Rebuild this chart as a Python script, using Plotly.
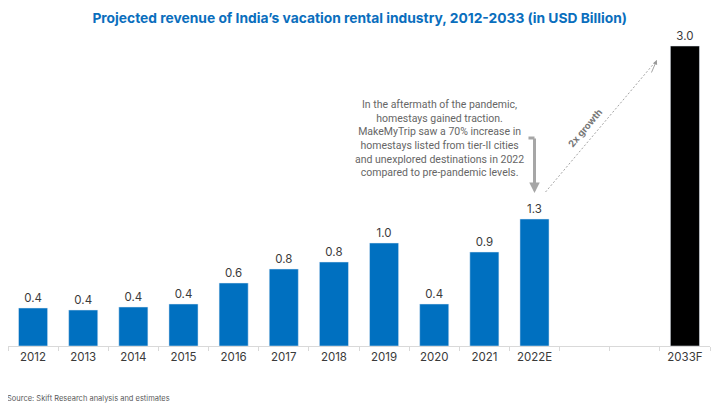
import plotly.graph_objects as go

# revenue in USD billion
years = ["2012", "2013", "2014", "2015", "2016", "2017", "2018", "2019",
         "2020", "2021", "2022E", " ", "  ", "2033F"]
revenue = [0.38, 0.36, 0.39, 0.42, 0.63, 0.77, 0.84, 1.03,
           0.42, 0.94, 1.27, None, None, 3.0]
bar_colors = ["#0070C0"] * 13 + ["#000000"]
labels = ["" if v is None else "%.1f" % v for v in revenue]

note = ("In the aftermath of the pandemic,<br>homestays gained traction.<br>"
        "MakeMyTrip saw a 70% increase in<br>homestays listed from tier-II cities<br>"
        "and unexplored destinations in 2022<br>compared to pre-pandemic levels.")

fig = go.Figure()
fig.add_trace(go.Bar(
    x=years, y=revenue, marker_color=bar_colors, width=0.58,
    text=labels, textposition="outside", cliponaxis=False,
    textfont=dict(size=11.5, color="#3A3A3A", family="Inter"),
))

gray = "#A6A6A6"
# dashed growth arrow
fig.add_shape(type="line", xref="x", yref="y", x0=10.22, y0=1.54, x1=12.44, y1=2.86,
              line=dict(color="#999999", width=0.9, dash="2px,2px"))
fig.add_annotation(x=12.44, y=2.86, ax=12.32, ay=2.72, xref="x", yref="y",
                   axref="x", ayref="y", text="", showarrow=True,
                   arrowhead=2, arrowsize=1, arrowwidth=0.9, arrowcolor="#999999")
fig.add_annotation(x=11.02, y=2.18, xref="x", yref="y", text="<b>2x growth</b>",
                   showarrow=False, textangle=-50,
                   font=dict(size=9.5, color="#757575", family="Inter"))

# bracket arrow from the note down to 2022E
fig.add_shape(type="line", xref="x", yref="y", x0=9.88, y0=2.08, x1=10.0, y1=2.08,
              line=dict(color=gray, width=3))
fig.add_annotation(x=10.0, y=1.53, ax=10.0, ay=2.09, xref="x", yref="y",
                   axref="x", ayref="y", text="", showarrow=True,
                   arrowhead=2, arrowsize=0.7, arrowwidth=3, arrowcolor=gray)
fig.add_annotation(x=8.1, y=2.08, xref="x", yref="y", text=note, showarrow=False,
                   align="center", font=dict(size=10.5, color="#666666", family="Roboto"))

fig.add_annotation(x=-0.004, y=-0.165, xref="paper", yref="paper", xanchor="left",
                   yanchor="middle", text="Source: Skift Research analysis and estimates",
                   showarrow=False, font=dict(size=7.5, color="#595959", family="Inter"))

# page has an 8px body margin, so the figure is 712x397 and shifted accordingly
fig.update_layout(
    width=712, height=397,
    margin=dict(l=0, r=10, t=22, b=59),
    paper_bgcolor="white", plot_bgcolor="white",
    showlegend=False,
    title=dict(text="<b>Projected revenue of India’s vacation rental industry, 2012-2033 (in USD Billion)</b>",
               x=0.494, xanchor="center", y=0.975, yanchor="middle",
               font=dict(size=13.8, color="#0A6EBD", family="Inter")),
    xaxis=dict(type="category", categoryorder="array", categoryarray=years,
               showline=True, linecolor="#D9D9D9", linewidth=1,
               ticks="outside", tickson="boundaries", ticklen=4, tickcolor="#D9D9D9",
               tickfont=dict(size=11.5, color="#3A3A3A", family="Inter"),
               showgrid=False),
    yaxis=dict(range=[0, 3.16], visible=False, showgrid=False),
)

fig.write_html("out.html")
